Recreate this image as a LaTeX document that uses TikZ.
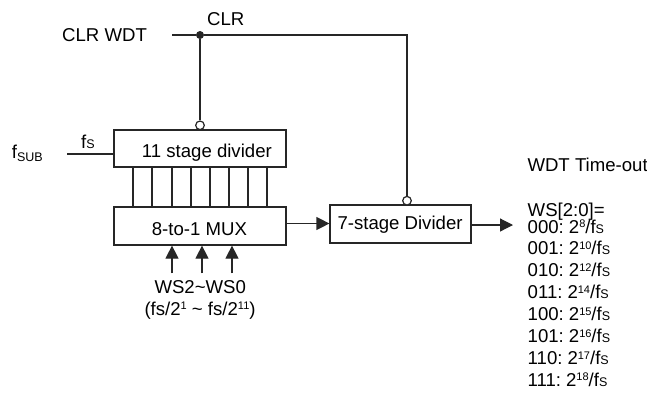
\documentclass[tikz,border=0pt]{standalone}
\usepackage{fontspec}
\setmainfont{Liberation Sans}
\usetikzlibrary{arrows.meta}
\newcommand\smS{{\fontsize{12.5}{12.5}\selectfont S}}
\newcommand\supn[1]{\raisebox{5.4pt}{\fontsize{11}{11}\selectfont #1}}
\newcommand\rowtxt[2]{#1:\hspace{5pt}2\supn{#2}/f\smS}
\begin{document}
\begin{tikzpicture}[x=1pt,y=-1pt,
  font=\fontsize{18.6}{21.9}\selectfont,
  wire/.style={line width=1.2pt,draw=black!85},
  blk/.style={draw=black!85,line width=1.2pt,rectangle,inner sep=0pt},
  lbl/.style={anchor=base west,inner sep=0pt},
  bubble/.style={circle,draw=black!85,line width=1.2pt,fill=white,minimum size=8.6pt,inner sep=0pt},
  tip/.style={-{Triangle[length=13pt,width=13pt]}}]
\useasboundingbox (0,0) rectangle (647,392);
% boxes
\node[blk,minimum width=172pt,minimum height=37pt] (div11) at (200,148.5) {};
\node[blk,minimum width=172pt,minimum height=38pt] (mux) at (200,226) {};
\node[blk,minimum width=141pt,minimum height=38pt] (div7) at (400.5,224) {};
% box texts
\node[lbl] (t11) at (141.7,157.3) {11 stage divider};
\node[lbl] (tmux) at (151.7,235) {8-to-1 MUX};
\node[lbl] (t7) at (337.3,229.3) {7-stage Divider};
% CLR net
\coordinate (clrin) at (172,35);
\coordinate (clrcorner) at (407,35);
\node[circle,fill=black!85,minimum size=8pt,inner sep=0pt] (dot) at (200,35) {};
\node[bubble] (b11) at (200,125.3) {};
\node[bubble] (b7) at (407,200.7) {};
\draw[wire] (clrin) -- (dot) -- (clrcorner) -- (b7);
\draw[wire] (dot) -- (b11);
\node[lbl] (clrwdt) at (62,41.7) {CLR WDT};
\node[lbl] (clr) at (207,25.7) {CLR};
% fsub input
\coordinate (fin) at (67,154);
\draw[wire] (fin) -- (fin -| div11.west);
\node[lbl] (fsub) at (11.7,158.3) {f\raisebox{-3pt}{\fontsize{12.5}{12.5}\selectfont SUB}};
\node[lbl] (fs) at (81,148.3) {f\smS};
% 8 taps
\foreach \x/\n in {133/a,152/b,172/c,191/d,210/e,229/f,248/g,267/h}{
  \coordinate (tap\n) at (\x,167);
  \draw[wire] (tap\n) -- (tap\n |- mux.north);
}
% mux to div7
\coordinate (mo) at (286,223.5);
\draw[wire,tip] (mo) -- (mo -| div7.west);
% output
\coordinate (outend) at (513,225);
\draw[wire,tip] (div7.east |- outend) -- (outend);
% WS arrows
\foreach \x/\n in {172/a,202/b,232/c}{
  \coordinate (ws\n) at (\x,273.3);
  \draw[wire,tip] (ws\n) -- (ws\n |- mux.south);
}
\node[lbl] (wslbl) at (154.3,293.3) {WS2\textasciitilde WS0};
\node[lbl] (fslbl) at (144.3,315) {(fs/2\supn{1} \textasciitilde{} fs/2\supn{11})};
% right text
\node[lbl] (wdt) at (527.3,171.7) {WDT Time-out};
\node[lbl] (wsr) at (527.5,216) {WS[2:0]=};
\node[lbl] (row0) at (527.5,233.0) {\rowtxt{000}{8}};
\node[lbl] (row1) at (527.5,254.9) {\rowtxt{001}{10}};
\node[lbl] (row2) at (527.5,276.8) {\rowtxt{010}{12}};
\node[lbl] (row3) at (527.5,298.7) {\rowtxt{011}{14}};
\node[lbl] (row4) at (527.5,320.6) {\rowtxt{100}{15}};
\node[lbl] (row5) at (527.5,342.5) {\rowtxt{101}{16}};
\node[lbl] (row6) at (527.5,364.4) {\rowtxt{110}{17}};
\node[lbl] (row7) at (527.5,386.3) {\rowtxt{111}{18}};
\end{tikzpicture}
\end{document}
